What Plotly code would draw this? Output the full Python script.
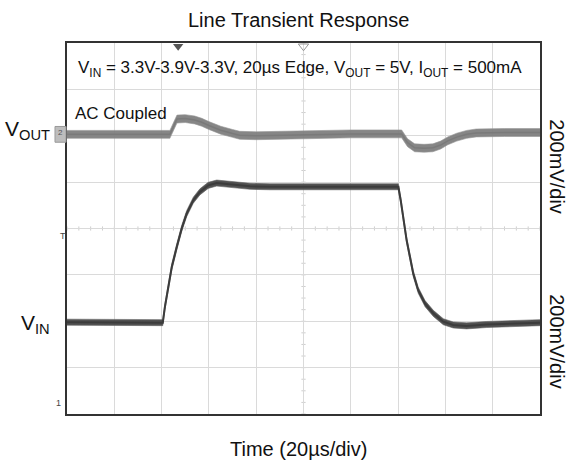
import numpy as np
import plotly.graph_objects as go

# ---- data (time in µs, amplitude in scope divisions, 200 mV/div) ----
vout_t = [0, 20, 43.5, 46.5, 50, 54, 57, 60, 65, 70, 73, 80, 100, 120, 141.5, 144, 147, 151, 154.7, 158, 161, 164.8, 169, 173, 185, 200]
vout_v = [2.03, 2.03, 2.03, 2.36, 2.37, 2.34, 2.29, 2.22, 2.12, 2.05, 2.01, 2.0, 2.02, 2.04, 2.04, 1.85, 1.74, 1.73, 1.74, 1.80, 1.89, 1.97, 2.03, 2.06, 2.07, 2.07]

vin_t = [0, 20, 40.5, 41.4, 42.8, 44.3, 46.4, 48.5, 50.6, 53.4, 56.2, 59.7, 63.3, 70.3, 77.4, 85.8, 110, 140.1,
         141.1, 142.2, 143.6, 145.0, 146.4, 148.5, 151.4, 154.9, 159.1, 163.3, 169.0, 177.5, 190, 200]
vin_v = [-2.02, -2.02, -2.03, -1.69, -1.26, -0.83, -0.40, 0.0, 0.32, 0.61, 0.79, 0.93, 0.98, 0.95, 0.91, 0.90, 0.90, 0.90,
         0.61, 0.18, -0.25, -0.61, -0.97, -1.33, -1.62, -1.83, -2.01, -2.08, -2.10, -2.07, -2.04, -2.03]

title_text = "Line Transient Response"
cond_text = "V<sub>IN</sub> = 3.3V-3.9V-3.3V, 20µs Edge, V<sub>OUT</sub> = 5V, I<sub>OUT</sub> = 500mA"
x_title = "Time (20µs/div)"
scale_label = "200mV/div"

FONT = "Liberation Sans, Arial, sans-serif"

fig = go.Figure()


def add_band(t, v, half, fill, edge, center, cw):
    t = np.array(t, float)
    v = np.array(v, float)
    fig.add_trace(go.Scatter(x=t, y=v + half, mode="lines", line=dict(color=edge, width=1),
                             hoverinfo="skip", showlegend=False))
    fig.add_trace(go.Scatter(x=t, y=v - half, mode="lines", line=dict(color=edge, width=1),
                             fill="tonexty", fillcolor=fill, hoverinfo="skip", showlegend=False))
    fig.add_trace(go.Scatter(x=t, y=v, mode="lines", line=dict(color=center, width=cw),
                             hoverinfo="skip", showlegend=False))


add_band(vout_t, vout_v, 0.085, "rgba(128,128,128,0.95)", "rgba(150,150,150,0.6)", "#7a7a7a", 1.5)
add_band(vin_t, vin_v, 0.065, "rgba(72,72,72,0.95)", "rgba(100,100,100,0.6)", "#3c3c3c", 2)

# minor ticks on the centre cross
shapes = []
for tt in np.arange(0, 200.01, 5):
    shapes.append(dict(type="line", xref="x", yref="y", x0=tt, x1=tt, y0=-0.045, y1=0.045,
                       line=dict(color="#cfcfcf", width=1), layer="below"))
for vv in np.arange(-4, 4.01, 0.25):
    shapes.append(dict(type="line", xref="x", yref="y", x0=99.1, x1=100.9, y0=vv, y1=vv,
                       line=dict(color="#cfcfcf", width=1), layer="below"))
# channel 2 marker box
shapes.append(dict(type="rect", xref="paper", yref="y", x0=-0.0254, x1=-0.002, y0=1.86, y1=2.2,
                   fillcolor="#bdbdbd", line=dict(color="#9a9a9a", width=1)))
fig.update_layout(shapes=shapes)

# markers: trigger position and centre
fig.add_trace(go.Scatter(x=[47], y=[3.93], mode="markers", cliponaxis=False,
                         marker=dict(symbol="triangle-down", size=9, color="#555"),
                         hoverinfo="skip", showlegend=False))
fig.add_trace(go.Scatter(x=[100], y=[3.93], mode="markers", cliponaxis=False,
                         marker=dict(symbol="triangle-down-open", size=9, color="#999"),
                         hoverinfo="skip", showlegend=False))
fig.add_trace(go.Scatter(x=[-1.2, -1.5], y=[-0.36, -3.96], mode="markers", cliponaxis=False,
                         marker=dict(symbol="triangle-right", size=6, color="#333"),
                         hoverinfo="skip", showlegend=False))

ann = []
ann.append(dict(text=title_text, xref="paper", yref="paper", x=0.49, y=1.062, showarrow=False,
                xanchor="center", yanchor="middle", font=dict(family=FONT, size=20, color="#111")))
ann.append(dict(text=x_title, xref="paper", yref="paper", x=0.49, y=-0.094, showarrow=False,
                xanchor="center", yanchor="middle", font=dict(family=FONT, size=20, color="#111")))
ann.append(dict(text=cond_text, xref="paper", yref="y", x=0.493, y=3.45, showarrow=False,
                xanchor="center", yanchor="middle", font=dict(family=FONT, size=17, color="#111")))
ann.append(dict(text="AC Coupled", xref="paper", yref="y", x=0.012, y=2.49, showarrow=False,
                xanchor="left", yanchor="middle", font=dict(family=FONT, size=17, color="#111")))
ann.append(dict(text="V<sub>OUT</sub>", xref="paper", yref="y", x=-0.032, y=2.12, showarrow=False,
                xanchor="right", yanchor="middle", font=dict(family=FONT, size=21, color="#111")))
ann.append(dict(text="V<sub>IN</sub>", xref="paper", yref="y", x=-0.032, y=-2.05, showarrow=False,
                xanchor="right", yanchor="middle", font=dict(family=FONT, size=21, color="#111")))
ann.append(dict(text=scale_label, xref="paper", yref="y", x=1.036, y=1.34, showarrow=False, textangle=90,
                xanchor="center", yanchor="middle", font=dict(family=FONT, size=20, color="#111")))
ann.append(dict(text=scale_label, xref="paper", yref="y", x=1.036, y=-2.43, showarrow=False, textangle=90,
                xanchor="center", yanchor="middle", font=dict(family=FONT, size=20, color="#111")))
ann.append(dict(text="2", xref="paper", yref="y", x=-0.0137, y=2.08, showarrow=False,
                xanchor="center", yanchor="middle", font=dict(family=FONT, size=8, color="#555")))
ann.append(dict(text="T", xref="paper", yref="y", x=-0.008, y=-0.17, showarrow=False,
                xanchor="center", yanchor="middle", font=dict(family=FONT, size=9, color="#444")))
ann.append(dict(text="1", xref="paper", yref="y", x=-0.019, y=-3.77, showarrow=False,
                xanchor="center", yanchor="middle", font=dict(family=FONT, size=9, color="#444")))

fig.update_layout(
    width=567, height=463,
    margin=dict(l=67, r=27, t=43, b=49),
    paper_bgcolor="white", plot_bgcolor="white",
    annotations=ann,
    showlegend=False,
    xaxis=dict(range=[0, 200], dtick=20, tick0=0, showgrid=True, gridcolor="#dadada", gridwidth=1,
               showticklabels=False, ticks="", zeroline=False, showline=True, mirror=True,
               linecolor="#333", linewidth=1.5),
    yaxis=dict(range=[-4, 4], dtick=1, tick0=0, showgrid=True, gridcolor="#dadada", gridwidth=1,
               showticklabels=False, ticks="", zeroline=False, showline=True, mirror=True,
               linecolor="#333", linewidth=1.5),
)

fig.write_html("out.html")
